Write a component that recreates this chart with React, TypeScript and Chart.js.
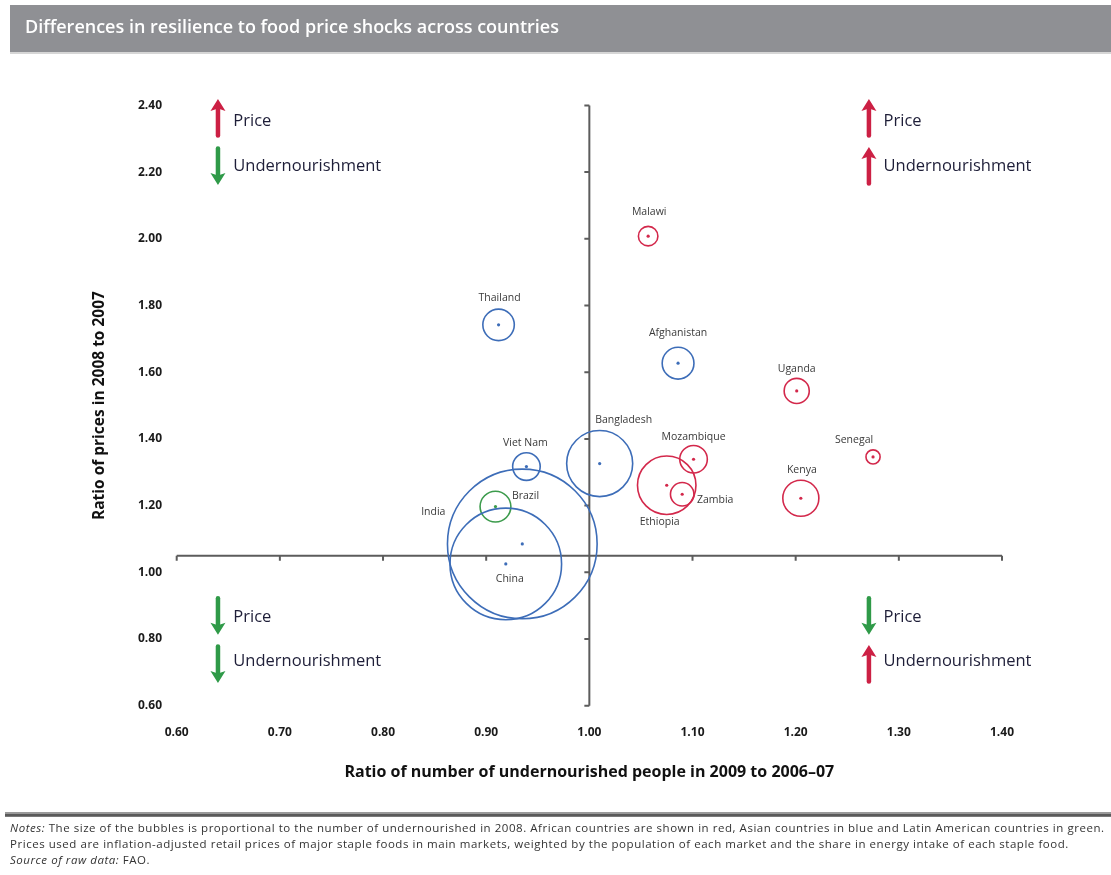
import React, { useEffect, useRef } from "react";
import { Chart, registerables } from "chart.js";

Chart.register(...registerables);

const TITLE = "Differences in resilience to food price shocks across countries";
const X_TITLE = "Ratio of number of undernourished people in 2009 to 2006–07";
const Y_TITLE = "Ratio of prices in 2008 to 2007";

// ---- data ----
const countries = [
  "Malawi", "Thailand", "Afghanistan", "Uganda", "Bangladesh", "Viet Nam", "Mozambique",
  "Senegal", "Ethiopia", "Zambia", "Kenya", "Brazil", "India", "China",
];
const continent = [
  "Africa", "Asia", "Asia", "Africa", "Asia", "Asia", "Africa",
  "Africa", "Africa", "Africa", "Africa", "Latin America", "Asia", "Asia",
];
// x: ratio of number of undernourished people 2009 / 2006-07
const undernourishedRatio = [1.057, 0.912, 1.086, 1.201, 1.010, 0.939, 1.101, 1.275, 1.075, 1.090, 1.205, 0.909, 0.935, 0.919];
// y: ratio of prices 2008 / 2007
const priceRatio = [2.008, 1.742, 1.627, 1.544, 1.326, 1.317, 1.339, 1.346, 1.261, 1.234, 1.222, 1.197, 1.085, 1.025];
// bubble size: number of undernourished in 2008 (millions, estimated)
const undernourished2008 = [3.8, 9.9, 10.1, 6.3, 43.6, 7.6, 7.6, 2.0, 34.2, 5.5, 13.0, 9.5, 224, 124.5];

const xTickValues = [0.6, 0.7, 0.8, 0.9, 1.0, 1.1, 1.2, 1.3, 1.4];
const xTickLabels = ["0.60", "0.70", "0.80", "0.90", "1.00", "1.10", "1.20", "1.30", "1.40"];
const yTickValues = [0.6, 0.8, 1.0, 1.2, 1.4, 1.6, 1.8, 2.0, 2.2, 2.4];
const yTickLabels = ["0.60", "0.80", "1.00", "1.20", "1.40", "1.60", "1.80", "2.00", "2.20", "2.40"];

const AXIS_CROSS_X = 1.0;
const AXIS_CROSS_Y = 1.05;

const NOTES = [
  [{ t: "Notes:", i: true }, { t: " The size of the bubbles is proportional to the number of undernourished in 2008. African countries are shown in red, Asian countries in blue and Latin American countries in green.", i: false }],
  [{ t: "Prices used are inflation-adjusted retail prices of major staple foods in main markets, weighted by the population of each market and the share in energy intake of each staple food.", i: false }],
  [{ t: "Source of raw data:", i: true }, { t: " FAO.", i: false }],
];

// ---- style ----
const COLORS: Record<string, string> = {
  Africa: "#d3284b",
  Asia: "#3d6db8",
  "Latin America": "#3c9b4c",
};
const RED = "#cc2044";
const GREEN = "#2f9a48";
const BUBBLE_PX = 5; // radius = BUBBLE_PX * sqrt(millions)
const FONT = "'Open Sans', 'Liberation Sans', sans-serif";
const NOTES_WIDTH = 1095;

// label offsets (px) relative to bubble centre
const labelOffsets: [number, number][] = [
  [1, -24], [1, -27], [0, -30], [0, -22], [24, -44], [-1, -24], [0, -22],
  [-19, -17], [-7, 37], [33, 6], [1, -28], [30, -11], [-89, -32], [4, 15],
];

// quadrant annotations (data coordinates)
const quadrantNotes = [
  { ax: 0.64, tx: 0.6549, y: 2.353, ay: 2.362, text: "Price", dir: "up" },
  { ax: 0.64, tx: 0.6549, y: 2.218, ay: 2.218, text: "Undernourishment", dir: "down" },
  { ax: 1.271, tx: 1.2852, y: 2.353, ay: 2.362, text: "Price", dir: "up" },
  { ax: 1.271, tx: 1.2852, y: 2.218, ay: 2.218, text: "Undernourishment", dir: "up" },
  { ax: 0.64, tx: 0.6549, y: 0.866, ay: 0.870, text: "Price", dir: "down" },
  { ax: 0.64, tx: 0.6549, y: 0.732, ay: 0.725, text: "Undernourishment", dir: "down" },
  { ax: 1.271, tx: 1.2852, y: 0.866, ay: 0.870, text: "Price", dir: "down" },
  { ax: 1.271, tx: 1.2852, y: 0.732, ay: 0.725, text: "Undernourishment", dir: "up" },
];

function drawArrow(ctx: CanvasRenderingContext2D, x: number, cy: number, dir: string) {
  const len = 38, shaft = 4.5, headW = 15, headL = 12;
  const color = dir === "up" ? RED : GREEN;
  const top = cy - len / 2, bottom = cy + len / 2;
  ctx.save();
  ctx.fillStyle = color;
  ctx.strokeStyle = color;
  ctx.lineWidth = shaft;
  ctx.lineCap = "round";
  ctx.beginPath();
  if (dir === "up") {
    ctx.moveTo(x, bottom - 1.5);
    ctx.lineTo(x, top + headL - 2);
    ctx.stroke();
    ctx.beginPath();
    ctx.moveTo(x, top);
    ctx.lineTo(x - headW / 2, top + headL);
    ctx.lineTo(x - 1.5, top + headL - 2);
    ctx.lineTo(x + 1.5, top + headL - 2);
    ctx.lineTo(x + headW / 2, top + headL);
    ctx.closePath();
    ctx.fill();
  } else {
    ctx.moveTo(x, top + 1.5);
    ctx.lineTo(x, bottom - headL + 2);
    ctx.stroke();
    ctx.beginPath();
    ctx.moveTo(x, bottom);
    ctx.lineTo(x - headW / 2, bottom - headL);
    ctx.lineTo(x - 1.5, bottom - headL + 2);
    ctx.lineTo(x + 1.5, bottom - headL + 2);
    ctx.lineTo(x + headW / 2, bottom - headL);
    ctx.closePath();
    ctx.fill();
  }
  ctx.restore();
}

const decorPlugin = {
  id: "decor",
  beforeDraw(chart: any) {
    const ctx: CanvasRenderingContext2D = chart.ctx;
    const W = chart.width;
    ctx.save();
    ctx.fillStyle = "#ffffff";
    ctx.fillRect(0, 0, W, chart.height);
    // title bar
    ctx.fillStyle = "#8f9094";
    ctx.fillRect(10, 5, W - 10, 47);
    ctx.fillStyle = "#d6d6d6";
    ctx.fillRect(10, 52, W - 10, 2);
    ctx.fillStyle = "#ffffff";
    ctx.font = `600 18px ${FONT}`;
    ctx.textBaseline = "middle";
    ctx.textAlign = "left";
    ctx.fillText(TITLE, 25, 28);
    // notes separator
    ctx.fillStyle = "#9a9a9a";
    ctx.fillRect(5, 812, W - 5, 5);
    ctx.fillStyle = "#5a5a5a";
    ctx.fillRect(5, 814, W - 5, 2.5);
    // notes text
    const size = 11.5;
    ctx.fillStyle = "#333333";
    // letter spacing so the first line spans the same width as the reference
    let w0 = 0, n0 = 0;
    NOTES[0].forEach((seg) => {
      ctx.font = `${seg.i ? "italic " : ""}${size}px ${FONT}`;
      w0 += ctx.measureText(seg.t).width;
      n0 += seg.t.length;
    });
    const ls = Math.max(0, (NOTES_WIDTH - w0) / n0);
    (ctx as any).letterSpacing = `${ls.toFixed(2)}px`;
    NOTES.forEach((line, li) => {
      let x = 10;
      const y = 829 + li * 16;
      line.forEach((seg) => {
        ctx.font = `${seg.i ? "italic " : ""}${size}px ${FONT}`;
        ctx.fillText(seg.t, x, y);
        x += ctx.measureText(seg.t).width;
      });
    });
    (ctx as any).letterSpacing = "0px";
    ctx.restore();
  },
  beforeDatasetsDraw(chart: any) {
    const ctx: CanvasRenderingContext2D = chart.ctx;
    const xs = chart.scales.x, ys = chart.scales.y;
    const y0 = ys.getPixelForValue(AXIS_CROSS_Y);
    const x0 = xs.getPixelForValue(AXIS_CROSS_X);
    ctx.save();
    ctx.strokeStyle = "#5c5c5c";
    ctx.lineWidth = 2;
    ctx.beginPath();
    ctx.moveTo(xs.getPixelForValue(xTickValues[0]), y0);
    ctx.lineTo(xs.getPixelForValue(xTickValues[xTickValues.length - 1]), y0);
    xTickValues.forEach((v) => {
      const px = xs.getPixelForValue(v);
      ctx.moveTo(px, y0);
      ctx.lineTo(px, y0 + 5);
    });
    ctx.moveTo(x0, ys.getPixelForValue(yTickValues[0]));
    ctx.lineTo(x0, ys.getPixelForValue(yTickValues[yTickValues.length - 1]));
    yTickValues.forEach((v) => {
      const py = ys.getPixelForValue(v);
      ctx.moveTo(x0, py);
      ctx.lineTo(x0 - 5, py);
    });
    ctx.stroke();
    ctx.restore();
  },
  afterDatasetsDraw(chart: any) {
    const ctx: CanvasRenderingContext2D = chart.ctx;
    const xs = chart.scales.x, ys = chart.scales.y;
    ctx.save();
    // bubble labels
    ctx.font = `10.5px ${FONT}`;
    ctx.fillStyle = "#3a3a3a";
    ctx.textAlign = "center";
    ctx.textBaseline = "middle";
    countries.forEach((c, i) => {
      const px = xs.getPixelForValue(undernourishedRatio[i]) + labelOffsets[i][0];
      const py = ys.getPixelForValue(priceRatio[i]) + labelOffsets[i][1];
      ctx.fillText(c, px, py);
    });
    // quadrant notes
    ctx.font = `16.5px ${FONT}`;
    ctx.fillStyle = "#1e1e38";
    ctx.textAlign = "left";
    quadrantNotes.forEach((q) => {
      drawArrow(ctx, xs.getPixelForValue(q.ax), ys.getPixelForValue(q.ay), q.dir);
      ctx.fillText(q.text, xs.getPixelForValue(q.tx), ys.getPixelForValue(q.y));
    });
    ctx.restore();
  },
};

export default function App() {
  const ref = useRef<HTMLCanvasElement | null>(null);
  useEffect(() => {
    if (!ref.current) return;
    const points = countries.map((c, i) => ({
      x: undernourishedRatio[i],
      y: priceRatio[i],
      r: BUBBLE_PX * Math.sqrt(undernourished2008[i]),
    }));
    const dots = countries.map((c, i) => ({ x: undernourishedRatio[i], y: priceRatio[i], r: 1.6 }));
    const colors = continent.map((c) => COLORS[c]);
    const chart = new Chart(ref.current, {
      type: "bubble",
      data: {
        datasets: [
          {
            label: "centres",
            data: dots,
            backgroundColor: colors,
            borderColor: colors,
            borderWidth: 0,
            clip: false as any,
          },
          {
            label: "Undernourished in 2008",
            data: points,
            backgroundColor: "rgba(0,0,0,0)",
            borderColor: colors,
            borderWidth: 1.6,
            clip: false as any,
          },
        ],
      },
      options: {
        responsive: false,
        animation: false,
        events: [],
        layout: { padding: { left: 80, right: 109, top: 105.4, bottom: 69.3 } },
        plugins: {
          legend: { display: false },
          tooltip: { enabled: false },
          title: { display: false },
        },
        scales: {
          x: {
            type: "linear",
            min: 0.6,
            max: 1.4,
            afterBuildTicks: (s: any) => {
              s.ticks = xTickValues.map((v) => ({ value: v }));
            },
            afterFit: (s: any) => {
              s.height = 100;
            },
            grid: { display: false, drawTicks: false },
            border: { display: false },
            ticks: {
              autoSkip: false,
              maxRotation: 0,
              padding: 20,
              color: "#1a1a1a",
              font: { family: FONT, size: 12, weight: "bold" },
              callback: (v: any) => xTickLabels[xTickValues.findIndex((t) => Math.abs(t - v) < 1e-6)] ?? "",
            },
            title: {
              display: true,
              text: X_TITLE,
              color: "#111111",
              font: { family: FONT, size: 16, weight: "bold" },
              padding: { top: 0, bottom: 23.5 },
            },
          },
          y: {
            type: "linear",
            min: 0.6,
            max: 2.4,
            afterBuildTicks: (s: any) => {
              s.ticks = yTickValues.map((v) => ({ value: v }));
            },
            afterFit: (s: any) => {
              s.width = 96.7;
            },
            grid: { display: false, drawTicks: false },
            border: { display: false },
            ticks: {
              autoSkip: false,
              padding: 14.7,
              color: "#1a1a1a",
              font: { family: FONT, size: 12, weight: "bold" },
              callback: (v: any) => yTickLabels[yTickValues.findIndex((t) => Math.abs(t - v) < 1e-6)] ?? "",
            },
            title: {
              display: true,
              text: Y_TITLE,
              color: "#111111",
              font: { family: FONT, size: 15.5, weight: "bold" },
              padding: { top: 10.5, bottom: 0 },
            },
          },
        },
      } as any,
      plugins: [decorPlugin],
    });
    return () => chart.destroy();
  }, []);
  return (
    <div style={{ position: "absolute", left: 0, top: 0, width: 1111, height: 875, background: "#fff" }}>
      <canvas ref={ref} width={1111} height={875} style={{ display: "block", width: 1111, height: 875 }} />
    </div>
  );
}
